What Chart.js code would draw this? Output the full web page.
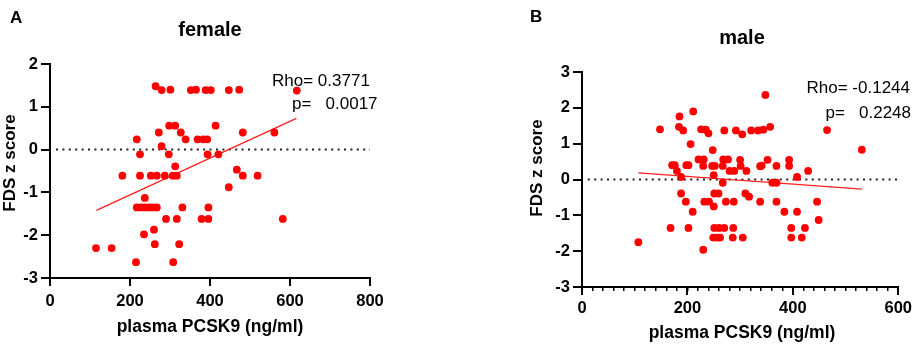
<!DOCTYPE html>
<html>
<head>
<meta charset="utf-8">
<script src="https://cdn.jsdelivr.net/npm/chart.js@4"></script>
<style>
  body { margin: 0; background: #fff; }
  #wrap { position: relative; width: 916px; height: 346px; }
  canvas { position: absolute; top: 0; }
</style>
</head>
<body>
<div id="wrap">
  <canvas id="female" width="458" height="346" style="left:0"></canvas>
  <canvas id="male" width="458" height="346" style="left:458px"></canvas>
</div>
<script>
// female panel (A)
var femaleX = [264, 279, 301, 352, 365, 389, 402, 447, 473, 617,
  298, 313, 414,
  272, 327, 482, 561,
  217, 339, 369, 383, 393,
  279,
  225, 297, 394, 421,
  313, 467,
  181, 225, 252, 267, 287, 307, 317, 482, 519,
  447, 237,
  217, 228, 238, 248, 257, 267, 331, 396,
  290, 317, 379, 396, 582,
  260, 235, 262, 323, 115, 154, 215, 308];
var femaleY = [1.48, 1.39, 1.40, 1.39, 1.40, 1.39, 1.39, 1.39, 1.40, 1.38,
  0.56, 0.56, 0.56,
  0.40, 0.40, 0.40, 0.40,
  0.24, 0.24, 0.24, 0.24, 0.24,
  0.08,
  -0.11, -0.11, -0.11, -0.11,
  -0.39, -0.47,
  -0.61, -0.61, -0.61, -0.61, -0.61, -0.61, -0.61, -0.61, -0.61,
  -0.88, -1.13,
  -1.35, -1.35, -1.35, -1.35, -1.35, -1.35, -1.35, -1.35,
  -1.62, -1.62, -1.62, -1.62, -1.62,
  -1.87, -1.98, -2.21, -2.21, -2.30, -2.30, -2.63, -2.63];
var femaleFitX = [116, 616];
var femaleFitY = [-1.42, 0.73];
var femaleXTicks = [0, 200, 400, 600, 800];
var femaleYTicks = [-3, -2, -1, 0, 1, 2];

// male panel (B)
var maleX = [107, 148, 185, 184, 192, 211, 206, 171, 176, 180, 188, 198, 202, 188, 197, 210, 168, 202, 230,
  226, 235, 240, 221, 231, 230, 248, 247, 252, 250, 232, 241, 250, 251, 259, 251, 260, 270, 249, 257, 262,
  267, 270, 268, 277, 267, 280, 289, 273, 288, 287, 286,
  292, 300, 301, 304, 312, 310, 317, 305,
  321, 334, 344, 348, 357, 338, 341, 352, 338, 361, 369, 369, 369, 384,
  393, 393, 408, 408, 397, 397, 417, 423, 429, 446, 449, 465, 531];
var maleY = [-1.75, 1.40, 1.76, 1.47, 1.37, 1.90, 0.99, 0.40, 0.40, 0.24, 0.07, 0.40, 0.40, -0.39, -0.62, -0.90, -1.35, -1.35, -1.96,
  1.40, 1.39, 1.29, 0.56, 0.56, 0.38, 0.82, 0.38, 0.38, 0.12, -0.62, -0.62, -0.75, -0.39, -0.39, -1.35, -1.35, -1.35, -1.62, -1.62, -1.62,
  -0.09, 1.37, 0.56, 0.56, 0.38, 0.24, 0.24, -0.62, -0.62, -1.35, -1.62,
  1.37, 0.55, 0.38, 1.26, 0.24, -0.39, -0.48, -1.62,
  1.37, 1.37, 1.39, 2.36, 1.47, 0.37, 0.39, 0.55, -0.62, -0.09, -0.09, 0.38, -0.62, -0.90,
  0.55, 0.38, 0.07, -0.90, -1.35, -1.62, -1.62, -1.35, 0.24, -0.62, -1.13, 1.38, 0.83];
var maleFitX = [107, 531];
var maleFitY = [0.185, -0.27];
var maleXTicks = [0, 200, 400, 600];
var maleYTicks = [-3, -2, -1, 0, 1, 2, 3];

var xTitle = 'plasma PCSK9 (ng/ml)';
var yTitle = 'FDS z score';

var FONT = '"Liberation Sans", Arial, sans-serif';
Chart.defaults.font.family = FONT;
Chart.defaults.color = '#000';

function pts(xs, ys) {
  return xs.map(function (x, i) { return { x: x, y: ys[i] }; });
}

function textPlugin(t) {
  return {
    id: 'panelText',
    afterDraw: function (chart) {
      var ctx = chart.ctx;
      ctx.save();
      ctx.fillStyle = '#000';
      ctx.textBaseline = 'middle';
      ctx.textAlign = 'left';
      ctx.font = 'bold 17px ' + FONT;
      ctx.fillText(t.letter, t.letterX, t.letterY);
      ctx.textAlign = 'center';
      ctx.font = 'bold 20px ' + FONT;
      ctx.fillText(t.title, t.titleX, t.titleY);
      ctx.font = 'bold 17.5px ' + FONT;
      ctx.fillText(xTitle, t.titleX, t.xTitleY);
      ctx.save();
      ctx.translate(t.yTitleX, t.yTitleY);
      ctx.rotate(-Math.PI / 2);
      ctx.font = 'bold 17px ' + FONT;
      ctx.fillText(yTitle, 0, 0);
      ctx.restore();
      ctx.font = '17px ' + FONT;
      t.stats.forEach(function (s) {
        ctx.textAlign = s.align;
        ctx.fillText(s.text, s.x, s.y);
      });
      ctx.restore();
    }
  };
}

function makeChart(id, xs, ys, fitX, fitY, xTicks, yTicks, box, minor, t) {
  var xMax = xTicks[xTicks.length - 1];
  var scales = {
    x: {
      type: 'linear', position: 'bottom', weight: 1,
      min: xTicks[0], max: xMax,
      afterBuildTicks: function (s) { s.ticks = xTicks.map(function (v) { return { value: v }; }); },
      afterFit: function (s) { s.height = box.xH; },
      ticks: { font: { size: 16.5, weight: 'bold' }, color: '#000', padding: box.xPad, maxRotation: 0, autoSkip: false },
      grid: { drawOnChartArea: false, tickLength: 8, color: '#000', lineWidth: 2 },
      border: { color: '#000', width: 2 }
    },
    y: {
      type: 'linear', position: 'left',
      min: yTicks[0], max: yTicks[yTicks.length - 1],
      afterBuildTicks: function (s) { s.ticks = yTicks.map(function (v) { return { value: v }; }); },
      afterFit: function (s) { s.width = box.yW; },
      ticks: { font: { size: 16.5, weight: 'bold' }, color: '#000', padding: 3, autoSkip: false },
      grid: { drawOnChartArea: false, tickLength: 9, color: '#000', lineWidth: 2 },
      border: { color: '#000', width: 2 }
    }
  };
  if (minor) {
    scales.x2 = {
      type: 'linear', position: 'bottom', weight: 0,
      min: xTicks[0], max: xMax,
      afterFit: function (s) { s.height = 0; },
      ticks: { display: false, stepSize: minor, autoSkip: false },
      grid: { drawOnChartArea: false, tickLength: 4, color: '#000', lineWidth: 1.5 },
      border: { display: false }
    };
  }
  return new Chart(document.getElementById(id), {
    type: 'scatter',
    data: {
      datasets: [
        { data: pts(xs, ys), backgroundColor: '#ff0000', borderWidth: 0, pointRadius: 3.9 },
        { data: pts(fitX, fitY), showLine: true, borderColor: '#ff2020', borderWidth: 1.3, pointRadius: 0 },
        { data: [{ x: box.zeroFrom, y: 0 }, { x: xMax, y: 0 }], showLine: true, borderColor: '#222',
          borderWidth: 2, borderDash: [2, 4.4], pointRadius: 0 }
      ]
    },
    options: {
      responsive: false,
      animation: false,
      devicePixelRatio: 1,
      layout: { padding: { top: box.top, left: box.left, right: box.right, bottom: 0 } },
      plugins: { legend: { display: false }, tooltip: { enabled: false } },
      scales: scales
    },
    plugins: [textPlugin(t)]
  });
}

makeChart('female', femaleX, femaleY, femaleFitX, femaleFitY, femaleXTicks, femaleYTicks,
  { top: 64, left: 0, right: 88, yW: 50, xH: 68, xPad: 6, zeroFrom: 15 }, 0,
  { letter: 'A', letterX: 10, letterY: 18, title: 'female', titleX: 210, titleY: 30,
    xTitleY: 327, yTitleX: 10, yTitleY: 163,
    stats: [{ text: 'Rho= 0.3771', x: 272, y: 81, align: 'left' },
            { text: 'p=   0.0017', x: 292, y: 104, align: 'left' }] });

makeChart('male', maleX, maleY, maleFitX, maleFitY, maleXTicks, maleYTicks,
  { top: 72, left: 74, right: 14, yW: 50, xH: 59, xPad: 4, zeroFrom: 11 }, 20,
  { letter: 'B', letterX: 72, letterY: 17, title: 'male', titleX: 284, titleY: 38,
    xTitleY: 333, yTitleX: 79, yTitleY: 168,
    stats: [{ text: 'Rho= -0.1244', x: 452, y: 88, align: 'right' },
            { text: 'p=   0.2248', x: 453, y: 113, align: 'right' }] });
</script>
</body>
</html>
